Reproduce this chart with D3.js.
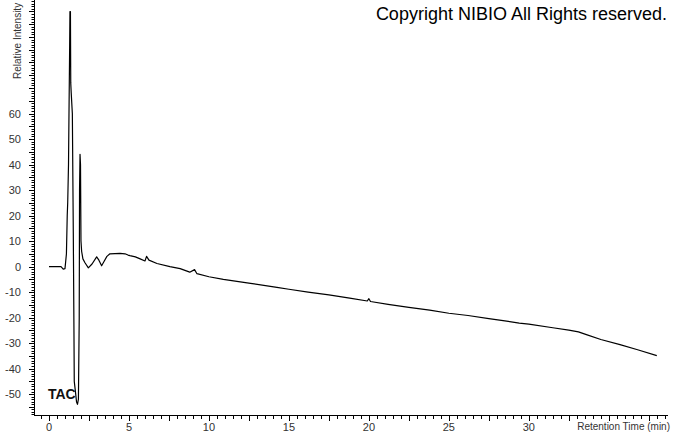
<!DOCTYPE html>
<html><head><meta charset="utf-8">
<script src="https://cdn.jsdelivr.net/npm/d3@7/dist/d3.min.js"></script>
<style>body{margin:0;background:#fff}svg{display:block}text{font-family:"Liberation Sans",Arial,sans-serif}</style>
</head><body><svg id="c" width="674" height="434"></svg>
<script>
// Retention time (min)
const times = [0,0.75,0.89,1.0,1.09,1.14,1.17,1.22,1.25,1.29,1.31,1.34,1.36,1.39,1.46,1.52,1.56,1.58,1.67,1.72,1.78,1.84,1.89,1.91,1.94,1.97,2.0,2.04,2.12,2.25,2.46,2.69,2.98,3.12,3.29,3.44,3.62,3.81,4.44,4.75,4.94,5.06,5.4,5.7,6.0,6.1,6.25,6.75,7.56,8.2,8.8,9.1,9.25,10,10.9,12.6,14.25,15,16.2,17.5,18.8,19.9,20.0,20.1,21.2,22.5,23.8,25,26.2,27.5,28.5,29.4,30,31.5,32.5,33.1,33.6,34.5,35.7,36.8,38.0];
// Relative intensity
const intensity = [0,0,-1,-0.8,5,20,25,40,60,85,100,100,72,68,60,13,-25,-45,-50,-53,-54,-52,-20,30,44,40,10,6,3,1.5,-0.5,1,3.8,2.5,0.3,2,4,5,5.2,5,4.5,4.3,3.8,3,2.2,4,2.5,1.2,0,-0.8,-2.2,-1.2,-2.8,-4,-5,-6.6,-8.2,-8.9,-10,-11.1,-12.4,-13.5,-12.6,-13.7,-14.8,-16,-17.1,-18.3,-19.2,-20.4,-21.3,-22.2,-22.6,-24.0,-24.9,-25.6,-26.7,-28.6,-30.6,-32.6,-34.9];
const xLabels = [0,5,10,15,20,25,30];
const yLabels = [-50,-40,-30,-20,-10,0,10,20,30,40,50,60];

const svg = d3.select("#c");
const x = d3.scaleLinear().domain([-0.9375,38.7]).range([34,668]);
const y = d3.scaleLinear().domain([-58.2,104.5]).range([415,0]);

const g = svg.append("g");
g.append("line").attr("x1",34.5).attr("x2",34.5).attr("y1",0).attr("y2",415.5).attr("stroke","#000");
g.append("line").attr("x1",34).attr("x2",668).attr("y1",415.5).attr("y2",415.5).attr("stroke","#000");

const yt = d3.range(-58,105,1);
g.selectAll(".yt").data(yt).join("line")
  .attr("x1",d=>d%5===0?29:31.5).attr("x2",34)
  .attr("y1",d=>Math.round(y(d))+0.5).attr("y2",d=>Math.round(y(d))+0.5)
  .attr("stroke","#000");
g.selectAll(".yl").data(yLabels).join("text")
  .attr("x",21).attr("y",d=>y(d)+4).attr("text-anchor","end")
  .attr("font-size",11).attr("fill","#333").text(d=>d);

const xt = d3.range(-0.5,38.6,0.5);
g.selectAll(".xt").data(xt).join("line")
  .attr("x1",d=>Math.round(x(d))+0.5).attr("x2",d=>Math.round(x(d))+0.5)
  .attr("y1",416).attr("y2",d=>(d%2.5===0)?421:419)
  .attr("stroke","#000");
g.selectAll(".xl").data(xLabels).join("text")
  .attr("x",d=>x(d)).attr("y",431).attr("text-anchor","middle")
  .attr("font-size",11).attr("fill","#333").text(d=>d);

g.append("text").attr("x",670).attr("y",430).attr("text-anchor","end")
  .attr("font-size",10).attr("fill","#333").text("Retention Time (min)");
g.append("text").attr("transform","translate(21,79) rotate(-90)")
  .attr("font-size",10).attr("fill","#333").text("Relative Intensity");

const line = d3.line().x((d,i)=>x(times[i])).y(d=>y(d));
svg.append("path").datum(intensity).attr("d",line)
  .attr("fill","none").attr("stroke","#000").attr("stroke-width",1.2).attr("stroke-linejoin","round");

svg.append("text").attr("x",48).attr("y",399).attr("font-size",14).attr("font-weight","bold").attr("fill","#111").text("TAC");
svg.append("text").attr("x",667).attr("y",20).attr("text-anchor","end").attr("font-size",18).attr("fill","#000").text("Copyright NIBIO All Rights reserved.");
</script></body></html>
